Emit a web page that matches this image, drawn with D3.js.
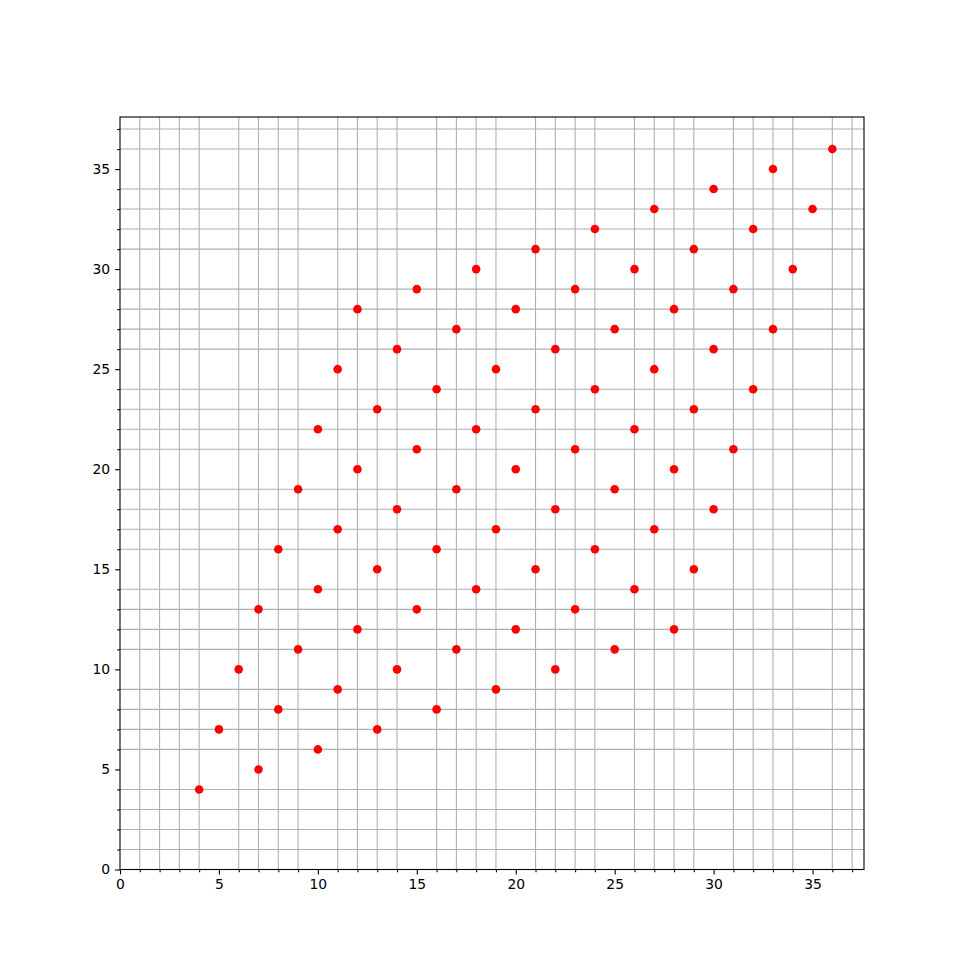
<!DOCTYPE html>
<html>
<head>
<meta charset="utf-8">
<script src="https://cdn.jsdelivr.net/npm/d3@7/dist/d3.min.js"></script>
<style>
  body { margin: 0; background: #fff; }
  svg { display: block; }
  .tick text { font-family: "DejaVu Sans", sans-serif; font-size: 13.9px; fill: #000; }
</style>
</head>
<body>
<svg id="chart" width="960" height="977"></svg>
<script>
// points, column by column
const xValues = [
  4, 5, 6, 7, 7, 8, 8, 9, 9, 10, 10, 10,
  11, 11, 11, 12, 12, 12, 13, 13, 13, 14, 14, 14,
  15, 15, 15, 16, 16, 16, 17, 17, 17, 18, 18, 18,
  19, 19, 19, 20, 20, 20, 21, 21, 21, 22, 22, 22,
  23, 23, 23, 24, 24, 24, 25, 25, 25, 26, 26, 26,
  27, 27, 27, 28, 28, 28, 29, 29, 29, 30, 30, 30,
  31, 31, 32, 32, 33, 33, 34, 35, 36
];
const yValues = [
  4, 7, 10, 13, 5, 16, 8, 19, 11, 22, 14, 6,
  25, 17, 9, 28, 20, 12, 23, 15, 7, 26, 18, 10,
  29, 21, 13, 24, 16, 8, 27, 19, 11, 30, 22, 14,
  25, 17, 9, 28, 20, 12, 31, 23, 15, 26, 18, 10,
  29, 21, 13, 32, 24, 16, 27, 19, 11, 30, 22, 14,
  33, 25, 17, 28, 20, 12, 31, 23, 15, 34, 26, 18,
  29, 21, 32, 24, 35, 27, 30, 33, 36
];
const majorTicks = [0, 5, 10, 15, 20, 25, 30, 35];
// minor ticks every 1, skipping the major positions; grid is drawn on these only
const minorTicks = d3.range(0, 38, 1).filter(d => d % 5 !== 0);
const axisMax = 37.6;

const points = xValues.map((x, i) => ({ x: x, y: yValues[i] }));

const svg = d3.select("#chart");
const plotLeft = 120, plotRight = 864, plotTop = 117, plotBottom = 869.5;

const xScale = d3.scaleLinear().domain([0, axisMax]).range([plotLeft, plotRight]);
const yScale = d3.scaleLinear().domain([0, axisMax]).range([plotBottom, plotTop]);

// minor grid
const grid = svg.append("g").attr("class", "grid");
grid.selectAll(".vgrid")
  .data(minorTicks)
  .enter().append("line")
  .attr("x1", d => xScale(d)).attr("x2", d => xScale(d))
  .attr("y1", plotTop).attr("y2", plotBottom)
  .attr("stroke", "#b0b0b0").attr("stroke-width", 1.1);
grid.selectAll(".hgrid")
  .data(minorTicks)
  .enter().append("line")
  .attr("y1", d => yScale(d)).attr("y2", d => yScale(d))
  .attr("x1", plotLeft).attr("x2", plotRight)
  .attr("stroke", "#b0b0b0").attr("stroke-width", 1.1);

// points
svg.selectAll(".dot")
  .data(points)
  .enter().append("circle")
  .attr("class", "dot")
  .attr("cx", d => xScale(d.x))
  .attr("cy", d => yScale(d.y))
  .attr("r", 4.3)
  .attr("fill", "#ff0000");

// frame
svg.append("rect")
  .attr("x", plotLeft).attr("y", plotTop)
  .attr("width", plotRight - plotLeft).attr("height", plotBottom - plotTop)
  .attr("fill", "none").attr("stroke", "#000").attr("stroke-width", 1.1);

// minor ticks
svg.append("g")
  .attr("transform", `translate(0, ${plotBottom})`)
  .call(d3.axisBottom(xScale).tickValues(minorTicks).tickSize(2.8).tickFormat(""))
  .call(g => g.select(".domain").remove());
svg.append("g")
  .attr("transform", `translate(${plotLeft}, 0)`)
  .call(d3.axisLeft(yScale).tickValues(minorTicks).tickSize(2.8).tickFormat(""))
  .call(g => g.select(".domain").remove());

// major ticks
svg.append("g")
  .attr("transform", `translate(0, ${plotBottom})`)
  .call(d3.axisBottom(xScale).tickValues(majorTicks).tickSize(4.9).tickPadding(4.9).tickFormat(d3.format("d")))
  .call(g => g.select(".domain").remove());
svg.append("g")
  .attr("transform", `translate(${plotLeft}, 0)`)
  .call(d3.axisLeft(yScale).tickValues(majorTicks).tickSize(4.9).tickPadding(4.9).tickFormat(d3.format("d")))
  .call(g => g.select(".domain").remove());

svg.selectAll(".tick line").attr("stroke", "#000").attr("stroke-width", 1.1);
</script>
</body>
</html>
